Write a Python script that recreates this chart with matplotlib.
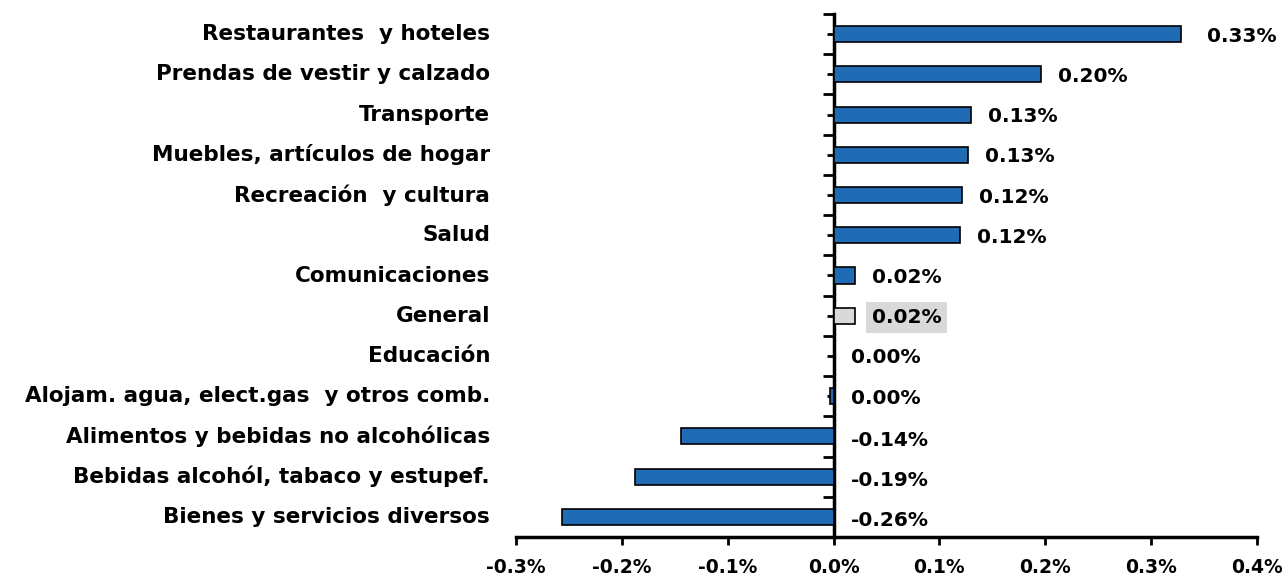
import matplotlib
matplotlib.use("Agg")
import matplotlib.pyplot as plt
from matplotlib.ticker import FixedLocator, FuncFormatter

categories = [
    "Restaurantes  y hoteles",
    "Prendas de vestir y calzado",
    "Transporte",
    "Muebles, artículos de hogar",
    "Recreación  y cultura",
    "Salud",
    "Comunicaciones",
    "General",
    "Educación",
    "Alojam. agua, elect.gas  y otros comb.",
    "Alimentos y bebidas no alcohólicas",
    "Bebidas alcohól, tabaco y estupef.",
    "Bienes y servicios diversos",
]
values = [0.328, 0.196, 0.130, 0.127, 0.121, 0.119, 0.020, 0.020, 0.0, -0.003, -0.144, -0.188, -0.257]
value_labels = ["0.33%", "0.20%", "0.13%", "0.13%", "0.12%", "0.12%", "0.02%", "0.02%",
                "0.00%", "0.00%", "-0.14%", "-0.19%", "-0.26%"]
xticks = [-0.3, -0.2, -0.1, 0.0, 0.1, 0.2, 0.3, 0.4]

plt.rcParams['font.family'] = ['DejaVu Sans']
plt.rcParams['font.weight'] = 'bold'
FS_TICK = 13.5
FS_CAT = 15.5
FS_VAL = 14.5

fig = plt.figure(figsize=(12.82, 5.77), dpi=100)
ax = fig.add_axes([516/1282, 40/577, 741/1282, 523/577])

n = len(categories)
ypos = list(range(n - 1, -1, -1))
blue = "#1F6CB4"
grey = "#D9D9D9"
colors = [grey if c == "General" else blue for c in categories]
ax.barh(ypos, values, height=0.4, color=colors, edgecolor="black", linewidth=1.2, zorder=3)

ax.set_xlim(-0.3, 0.4)
ax.set_ylim(-0.5, n - 0.5)

for s in ["top", "right"]:
    ax.spines[s].set_visible(False)
ax.spines["left"].set_position(("data", 0))
ax.spines["left"].set_linewidth(2.5)
ax.spines["bottom"].set_linewidth(2.5)

ax.set_xticks(xticks)
ax.xaxis.set_major_formatter(FuncFormatter(lambda v, p: f"{v:.1f}%"))
ax.tick_params(axis="x", direction="out", length=6, width=2, pad=9, labelsize=FS_TICK)
for t in ax.get_xticklabels():
    t.set_fontweight("bold")

ax.yaxis.set_major_locator(FixedLocator([i - 0.5 for i in range(n + 1)]))
ax.yaxis.set_minor_locator(FixedLocator(ypos))
ax.tick_params(axis="y", which="major", direction="out", length=8, width=2, labelleft=False)
ax.tick_params(axis="y", which="minor", direction="out", length=5, width=2, labelleft=False)

for cat, y in zip(categories, ypos):
    ax.text(-0.035, y, cat, transform=ax.get_yaxis_transform(), ha="right", va="center",
            fontsize=FS_CAT, fontweight="bold")

for cat, v, lab, y in zip(categories, values, value_labels, ypos):
    x0 = max(v, 0)
    off = 26 if v > 0.3 else 17
    dy = -4 if v < -0.01 else -2
    kw = {}
    if cat == "General":
        kw["bbox"] = dict(boxstyle="square,pad=0.3", facecolor=grey, edgecolor="none")
    ax.annotate(lab, xy=(x0, y), xytext=(off, dy), textcoords="offset pixels",
                ha="left", va="center", fontsize=FS_VAL, fontweight="bold", **kw)

fig.savefig("out.png", dpi=100)
